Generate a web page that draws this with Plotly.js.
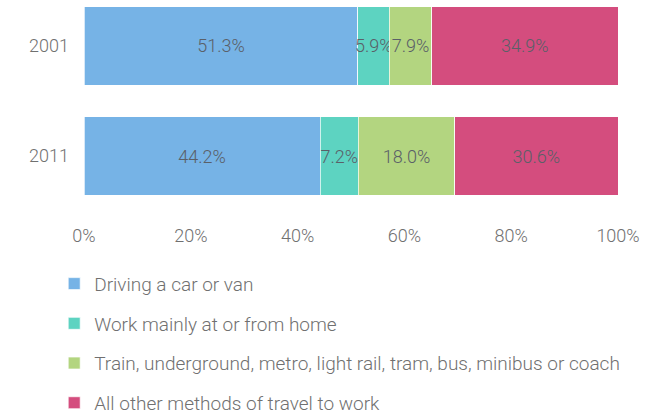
<!DOCTYPE html>
<html>
<head>
<meta charset="utf-8">
<script src="https://cdn.plot.ly/plotly-3.0.1.min.js"></script>
<style>html,body{margin:0;padding:0;background:#fff;}#chart{width:661px;height:415px;}</style>
</head>
<body>
<div id="chart"></div>
<script>
var years = ['2001', '2011'];
var seriesNames = [
  'Driving a car or van',
  'Work mainly at or from home',
  'Train, underground, metro, light rail, tram, bus, minibus or coach',
  'All other methods of travel to work'
];
var driving = [51.3, 44.2];
var home = [5.9, 7.2];
var transit = [7.9, 18.0];
var other = [34.9, 30.6];
var xTicks = [0, 20, 40, 60, 80, 100];

var colors = ['#76B3E6', '#5DD3C1', '#B3D580', '#D44D7E'];
var values = [driving, home, transit, other];
var fontFam = 'Roboto, "DejaVu Sans", sans-serif';

var traces = values.map(function (v, i) {
  return {
    type: 'bar',
    orientation: 'h',
    name: seriesNames[i],
    y: years,
    x: v,
    marker: {color: colors[i], line: {color: 'rgba(255,255,255,0.7)', width: 1}},
    text: v.map(function (d) { return d.toFixed(1) + '%'; }),
    textposition: 'inside',
    insidetextanchor: 'middle',
    constraintext: 'none',
    textangle: 0,
    textfont: {family: fontFam, size: 18, color: '#5a6068', weight: 300},
    hoverinfo: 'name+x',
    legendgroup: 'g' + i,
    cliponaxis: false
  };
});

var layout = {
  width: 661,
  height: 415,
  barmode: 'stack',
  bargap: 0.29,
  margin: {l: 84, r: 43, t: 0, b: 200, autoexpand: false},
  paper_bgcolor: '#fff',
  plot_bgcolor: '#fff',
  font: {family: fontFam, color: '#6e6e6e', size: 18, weight: 300},
  xaxis: {
    range: [0, 100],
    tickvals: xTicks,
    ticktext: xTicks.map(function (t) { return t + '%'; }),
    tickangle: 0,
    showgrid: false,
    zeroline: false,
    showline: false,
    ticks: '',
    ticklabelstandoff: 8,
    tickfont: {size: 18, color: '#707070', family: fontFam, weight: 300},
    fixedrange: true
  },
  yaxis: {
    type: 'category',
    range: [1.536, -0.418],
    showgrid: false,
    zeroline: false,
    showline: false,
    ticks: '',
    ticklabelstandoff: 14,
    tickfont: {size: 18, color: '#707070', family: fontFam, weight: 300},
    fixedrange: true
  },
  showlegend: true,
  legend: {
    orientation: 'v',
    traceorder: 'grouped',
    tracegroupgap: 12,
    xref: 'container',
    yref: 'container',
    x: 0.082,
    y: 0.362,
    xanchor: 'left',
    yanchor: 'top',
    font: {size: 19, color: '#707070', family: fontFam, weight: 300},
    itemwidth: 30,
    bgcolor: 'rgba(0,0,0,0)'
  }
};

Plotly.newPlot('chart', traces, layout, {displayModeBar: false, responsive: false});
</script>
</body>
</html>
